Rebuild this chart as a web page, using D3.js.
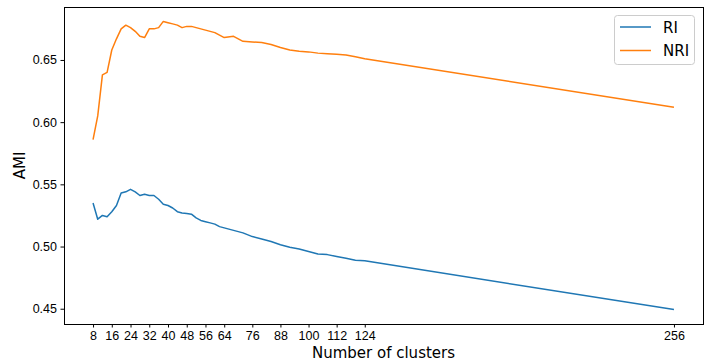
<!DOCTYPE html>
<html>
<head>
<meta charset="utf-8">
<script src="https://cdn.jsdelivr.net/npm/d3@7"></script>
<style>
  body { margin: 0; background: #fff; }
  svg { font-family: "DejaVu Sans", sans-serif; }
</style>
</head>
<body>
<svg id="chart" width="711" height="362"></svg>
<script>
// number of clusters
const clusters = [8, 10, 12, 14, 16, 18, 20, 22, 24, 26, 28, 30, 32, 34, 36, 38, 40, 42, 44, 46, 48,
  50, 52, 54, 56, 58, 60, 62, 64, 68, 72, 76, 80, 84, 88, 92, 96, 100, 104, 108, 112, 116, 120, 124, 256];

const riValues = [0.535, 0.522, 0.525, 0.524, 0.528, 0.533, 0.543, 0.544, 0.546, 0.544, 0.541, 0.542,
  0.541, 0.541, 0.538, 0.534, 0.533, 0.531, 0.528, 0.527, 0.5265, 0.526, 0.523, 0.521, 0.520, 0.519,
  0.518, 0.516, 0.515, 0.513, 0.511, 0.508, 0.506, 0.504, 0.5015, 0.4995, 0.498, 0.496, 0.494, 0.4935,
  0.492, 0.4905, 0.489, 0.4885, 0.4493];

const nriValues = [0.586, 0.605, 0.638, 0.640, 0.658, 0.667, 0.675, 0.678, 0.676, 0.673, 0.669, 0.668,
  0.675, 0.675, 0.676, 0.681, 0.680, 0.679, 0.678, 0.676, 0.677, 0.677, 0.676, 0.675, 0.674, 0.673,
  0.672, 0.670, 0.668, 0.669, 0.665, 0.6645, 0.664, 0.6625, 0.660, 0.658, 0.657, 0.6565, 0.6555, 0.655,
  0.6545, 0.654, 0.6525, 0.651, 0.612];

const xTicks = [8, 16, 24, 32, 40, 48, 56, 64, 76, 88, 100, 112, 124, 256];
const yTicks = [0.45, 0.50, 0.55, 0.60, 0.65];

const series = [
  { name: "RI", values: riValues, color: "#1f77b4" },
  { name: "NRI", values: nriValues, color: "#ff7f0e" }
];

const margin = { left: 64, right: 703, top: 7, bottom: 324 };
const svg = d3.select("#chart");

// matplotlib style 5% margins
const xPad = (d3.max(clusters) - d3.min(clusters)) * 0.05;
const x = d3.scaleLinear()
  .domain([d3.min(clusters) - xPad, d3.max(clusters) + xPad])
  .range([margin.left, margin.right]);

const allY = riValues.concat(nriValues);
const yPad = (d3.max(allY) - d3.min(allY)) * 0.05;
const y = d3.scaleLinear()
  .domain([d3.min(allY) - yPad, d3.max(allY) + yPad])
  .range([margin.bottom, margin.top]);

const line = d3.line()
  .x((d, i) => x(clusters[i]))
  .y(d => y(d));

series.forEach(s => {
  svg.append("path")
    .datum(s.values)
    .attr("d", line)
    .attr("fill", "none")
    .attr("stroke", s.color)
    .attr("stroke-width", 1.5)
    .attr("stroke-linejoin", "round");
});

// axes
const xAxis = svg.append("g")
  .attr("transform", "translate(0," + margin.bottom + ")")
  .call(d3.axisBottom(x).tickValues(xTicks).tickSize(3.5).tickPadding(3.5).tickFormat(d3.format("d")));
xAxis.select(".domain").remove();
xAxis.selectAll("text").style("font-size", "12.5px").attr("fill", "#000");

const yAxis = svg.append("g")
  .attr("transform", "translate(" + margin.left + ",0)")
  .call(d3.axisLeft(y).tickValues(yTicks).tickSize(3.5).tickPadding(3.5).tickFormat(d3.format(".2f")));
yAxis.select(".domain").remove();
yAxis.selectAll("text").style("font-size", "12.5px").attr("fill", "#000");

// frame
svg.append("rect")
  .attr("x", margin.left + 0.5).attr("y", margin.top + 0.5)
  .attr("width", margin.right - margin.left).attr("height", margin.bottom - margin.top)
  .attr("fill", "none").attr("stroke", "#000").attr("stroke-width", 1);

// axis labels
svg.append("text")
  .attr("x", (margin.left + margin.right) / 2).attr("y", 358)
  .attr("text-anchor", "middle")
  .style("font-size", "15px")
  .text("Number of clusters");

svg.append("text")
  .attr("transform", "translate(25," + ((margin.top + margin.bottom) / 2) + ") rotate(-90)")
  .attr("text-anchor", "middle")
  .style("font-size", "15px")
  .text("AMI");

// legend
const legend = svg.append("g");
legend.append("rect")
  .attr("x", 614.5).attr("y", 15.5)
  .attr("width", 80).attr("height", 49)
  .attr("rx", 3)
  .attr("fill", "#fff").attr("fill-opacity", 0.8)
  .attr("stroke", "#ccc");

series.forEach((s, i) => {
  const ly = 27 + i * 23.5;
  legend.append("line")
    .attr("x1", 620).attr("x2", 651)
    .attr("y1", ly).attr("y2", ly)
    .attr("stroke", s.color).attr("stroke-width", 1.5);
  legend.append("text")
    .attr("x", 663).attr("y", ly + 5.5)
    .style("font-size", "15px")
    .text(s.name);
});
</script>
</body>
</html>
